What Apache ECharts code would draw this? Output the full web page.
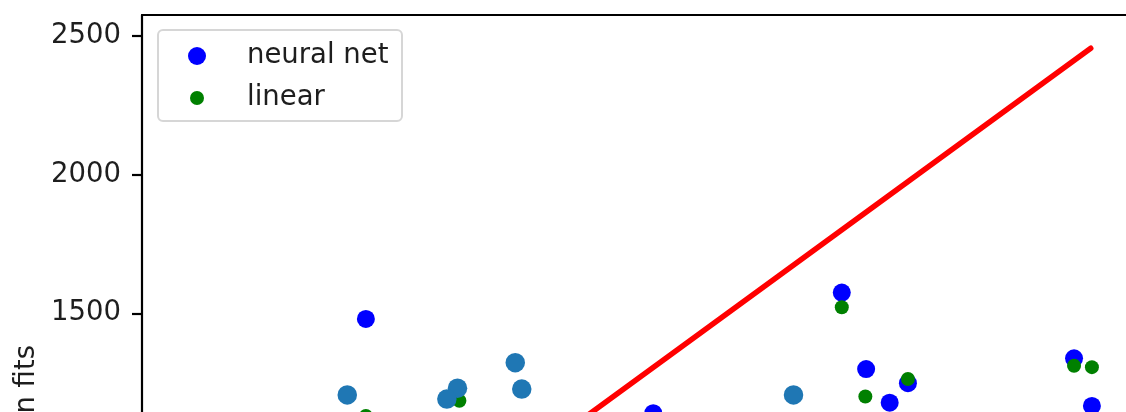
<!DOCTYPE html>
<html>
<head>
<meta charset="utf-8">
<script src="https://cdn.jsdelivr.net/npm/echarts@6/dist/echarts.min.js"></script>
<style>
html,body{margin:0;padding:0;background:#fff;overflow:hidden;width:1126px;height:412px;}
#chart{width:1200px;height:500px;}
</style>
</head>
<body>
<div id="chart"></div>
<script>
// ---- data ----
const nnX = [549, 1801, 1305, 1865, 1927, 1975, 2412, 2459];
const nnY = [1480, 1575, 1140, 1299, 1178, 1248, 1338, 1166];
const linX = [549, 795, 1801, 1863, 1975, 2412, 2459];
const linY = [1130, 1185, 1522, 1200, 1263, 1311, 1306];
const otherX = [500, 790, 762, 942, 959, 1674];
const otherY = [1206, 1230, 1191, 1322, 1227, 1206];
const idealX = [80, 2456];
const idealY = [80, 2456];
const yTicks = [1000, 1500, 2000, 2500];
const seriesNames = ['neural net', 'linear'];
const yLabel = 'regression fits';

const zip = (xs, ys) => xs.map((x, i) => [x, ys[i]]);
const FONT = 'DejaVu Sans';

const chart = echarts.init(document.getElementById('chart'), null, {renderer: 'canvas'});
chart.setOption({
  animation: false,
  backgroundColor: '#fff',
  grid: {left: 142, top: 15, width: 994, height: 437, containLabel: false},
  xAxis: {
    type: 'value', position: 'top', min: -40, max: 2575,
    axisLine: {show: true, onZero: false, lineStyle: {color: '#000', width: 2.2}},
    axisTick: {show: false}, axisLabel: {show: false}, splitLine: {show: false}
  },
  yAxis: {
    type: 'value', min: yTicks[0], max: 2576, interval: 500,
    axisLine: {show: true, onZero: false, lineStyle: {color: '#000', width: 2.2}},
    axisTick: {show: true, length: 10, lineStyle: {color: '#000', width: 2.2}},
    axisLabel: {fontFamily: FONT, fontSize: 27.5, color: '#1e1e1e', margin: 21,
                formatter: v => String(v)},
    splitLine: {show: false}
  },
  legend: [
    {data: [seriesNames[0]], icon: 'circle', left: 188, top: 42, padding: 0,
     itemWidth: 18, itemHeight: 18, selectedMode: false,
     textStyle: {fontFamily: FONT, fontSize: 27.5, color: '#1e1e1e', padding: [0, 0, 0, 36]}},
    {data: [seriesNames[1]], icon: 'circle', left: 190, top: 84, padding: 0,
     itemWidth: 14, itemHeight: 14, selectedMode: false,
     textStyle: {fontFamily: FONT, fontSize: 27.5, color: '#1e1e1e', padding: [0, 0, 0, 38]}}
  ],
  graphic: [
    {type: 'rect', left: 157, top: 29, z: 3,
     shape: {width: 244, height: 91, r: 5},
     style: {fill: 'rgba(255,255,255,0.8)', stroke: '#d6d6d6', lineWidth: 2}},
    {type: 'text', x: 27, y: 345, rotation: Math.PI / 2, z: 3,
     style: {text: yLabel, fontFamily: FONT, fontSize: 27.5, fill: '#1e1e1e',
             align: 'right', verticalAlign: 'middle'}}
  ],
  series: [
    {type: 'line', data: zip(idealX, idealY), symbol: 'none', z: 1,
     lineStyle: {color: '#ff0000', width: 5.5, cap: 'round'}},
    {name: seriesNames[0], type: 'scatter', data: zip(nnX, nnY), symbolSize: 18, z: 2,
     itemStyle: {color: '#0000ff', opacity: 1}},
    {name: seriesNames[1], type: 'scatter', data: zip(linX, linY), symbolSize: 14, z: 2,
     itemStyle: {color: '#008000', opacity: 1}},
    {type: 'scatter', data: zip(otherX, otherY), symbolSize: 19.5, z: 2,
     itemStyle: {color: '#1f77b4', opacity: 1}}
  ]
});
</script>
</body>
</html>
